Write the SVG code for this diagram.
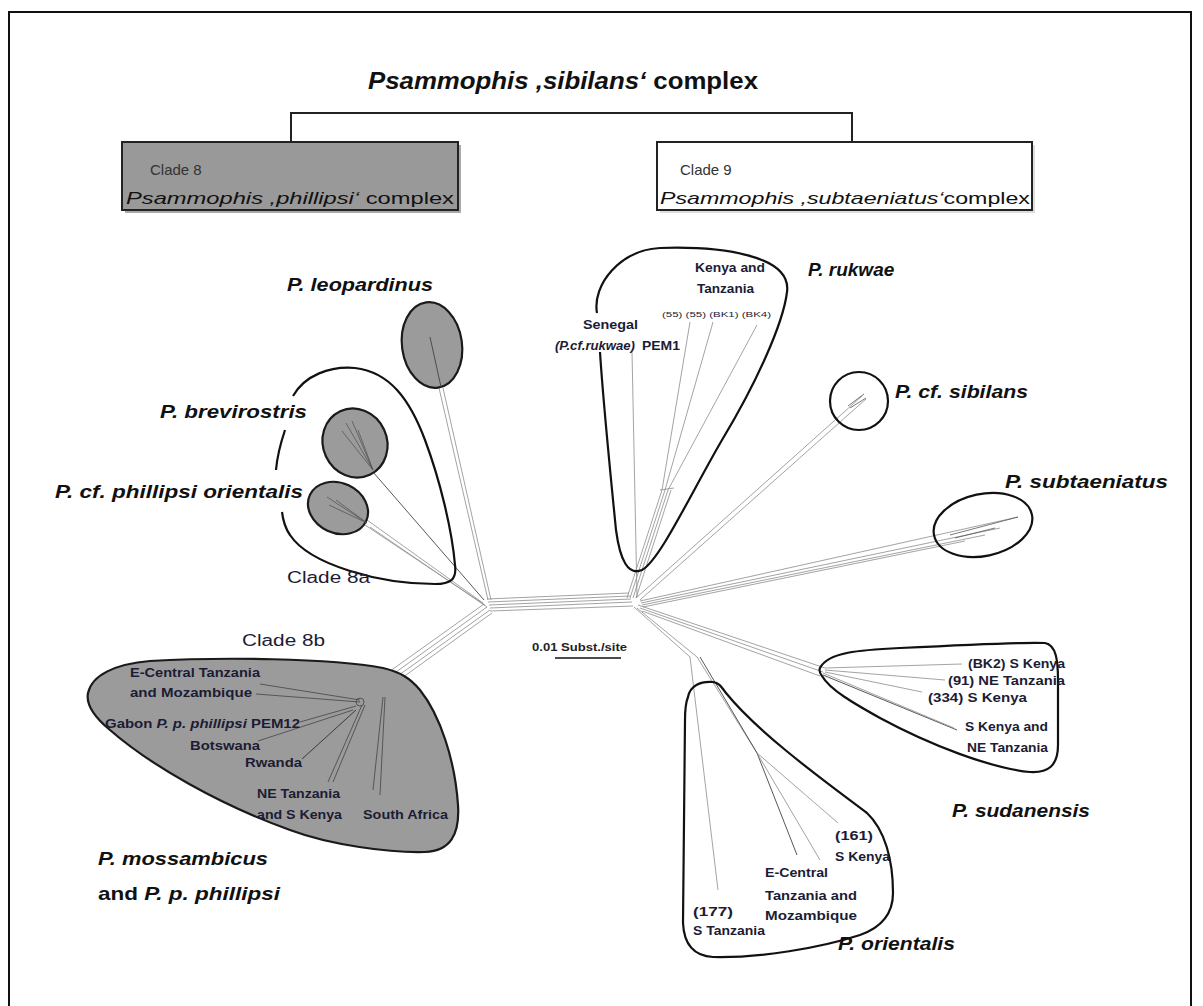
<svg xmlns="http://www.w3.org/2000/svg" width="1203" height="1006" viewBox="0 0 1203 1006">
<defs>
<style>
.sp{font-family:"Liberation Sans",Arial,sans-serif;font-weight:bold;font-style:italic;font-size:19px;fill:#111}
.sm{font-family:"Liberation Sans",Arial,sans-serif;font-weight:bold;font-size:13px;fill:#1c1c34}
.cl{font-family:"Liberation Sans",Arial,sans-serif;font-size:16px;fill:#1c1c34}
.bx{font-family:"Liberation Sans",Arial,sans-serif;font-size:17px;fill:#111}
.net line,.net polyline{stroke:#8c8c8c;stroke-width:0.8;fill:none}
.net .dk{stroke:#444;stroke-width:0.9}
.loop{fill:none;stroke:#111;stroke-width:2.2}
.gr{fill:#9b9b9b;stroke:#1a1a1a;stroke-width:2.2}
</style>
</defs>
<rect width="1203" height="1006" fill="#fff"/>
<path d="M9,1006 V12 H1191 V1006" fill="none" stroke="#111" stroke-width="2"/>

<g id="title">
<text x="368" y="89" font-family="Liberation Sans, Arial, sans-serif" font-weight="bold" font-size="24" fill="#111" textLength="390" lengthAdjust="spacingAndGlyphs"><tspan font-style="italic">Psammophis ,sibilans‘</tspan> complex</text>
<path d="M291,142 V113 H852 V142" fill="none" stroke="#222" stroke-width="2"/>
</g>

<g id="clade8">
<rect x="125" y="145" width="336" height="68" fill="#555" opacity="0.5"/>
<rect x="122" y="142" width="336" height="68" fill="#999" stroke="#222" stroke-width="2"/>
<text x="150" y="175" font-family="Liberation Sans, Arial, sans-serif" font-size="15" fill="#333">Clade 8</text>
<text class="bx" x="126" y="204" textLength="328" lengthAdjust="spacingAndGlyphs"><tspan font-style="italic">Psammophis ,phillipsi‘</tspan> complex</text>
</g>

<g id="clade9">
<rect x="660" y="145" width="375" height="68" fill="#bbb" opacity="0.5"/>
<rect x="657" y="142" width="375" height="68" fill="#fff" stroke="#222" stroke-width="2"/>
<text x="680" y="175" font-family="Liberation Sans, Arial, sans-serif" font-size="15" fill="#333">Clade 9</text>
<text class="bx" x="660" y="204" textLength="370" lengthAdjust="spacingAndGlyphs"><tspan font-style="italic">Psammophis ,subtaeniatus‘</tspan>complex</text>
</g>

<g id="connectors" class="net">
<!-- central bundle -->
<line x1="487" y1="599" x2="629" y2="593"/>
<line x1="488" y1="602" x2="630" y2="596"/>
<line x1="489" y1="605" x2="631" y2="599"/>
<line x1="490" y1="608" x2="632" y2="602"/>
<line x1="490" y1="611" x2="633" y2="606"/>
<!-- left hub to 8b -->
<line x1="484" y1="604" x2="372" y2="684"/>
<line x1="487" y1="607" x2="375" y2="687"/>
<line x1="490" y1="610" x2="378" y2="690"/>
<line x1="492" y1="613" x2="381" y2="693"/>
<!-- left hub to 8a -->
<line x1="483" y1="603" x2="367" y2="520"/>
<line x1="485" y1="605" x2="365" y2="525"/>
<line x1="487" y1="607" x2="370" y2="527"/>
<line class="dk" x1="484" y1="600" x2="373" y2="472"/>
<line x1="488" y1="600" x2="439" y2="388"/>
<line x1="491" y1="600" x2="443" y2="388"/>
<!-- right hub to rukwae -->
<line x1="632" y1="352" x2="637" y2="597"/>
<polyline points="627,598 662,490 690,322"/>
<polyline points="630,598 665,490 713,322"/>
<polyline points="633,598 668,490 757,325"/>
<line x1="636" y1="598" x2="671" y2="490"/>
<line x1="660" y1="490" x2="674" y2="488"/>
<!-- right hub to sibilans -->
<line x1="636" y1="598" x2="862" y2="396"/>
<line x1="640" y1="600" x2="866" y2="399"/>
<!-- right hub to subtaeniatus -->
<line x1="640" y1="601" x2="1018" y2="517"/>
<line x1="641" y1="603" x2="1000" y2="528"/>
<line x1="642" y1="605" x2="985" y2="535"/>
<line x1="643" y1="607" x2="965" y2="541"/>
<!-- right hub to sudanensis -->
<line x1="638" y1="605" x2="825" y2="668"/>
<line x1="640" y1="608" x2="823" y2="672"/>
<line x1="642" y1="611" x2="820" y2="676"/>
<line x1="825" y1="668" x2="962" y2="664"/>
<line x1="825" y1="670" x2="945" y2="680"/>
<line x1="825" y1="672" x2="922" y2="692"/>
<line class="dk" x1="823" y1="675" x2="957" y2="730"/>
<line x1="823" y1="673" x2="954" y2="728"/>
<!-- right hub to orientalis -->
<line x1="634" y1="607" x2="690" y2="657"/>
<line x1="637" y1="608" x2="697" y2="657"/>
<line x1="690" y1="657" x2="718" y2="890"/>
<line x1="697" y1="657" x2="757" y2="753"/>
<polyline class="dk" points="700,657 757,753 797,855"/>
<line x1="757" y1="753" x2="820" y2="860"/>
<line x1="757" y1="753" x2="838" y2="823"/>
</g>

<g id="leopardinus">
<ellipse class="gr" cx="432" cy="345" rx="30" ry="43" transform="rotate(-8 432 345)"/>
<line x1="430" y1="337" x2="441" y2="387" stroke="#444" stroke-width="0.9"/>
<text class="sp" x="287" y="291" textLength="146" lengthAdjust="spacingAndGlyphs">P. leopardinus</text>
</g>

<g id="clade8a">
<path class="loop" d="M293,396 C305,375 330,366 355,368 C390,372 410,400 425,440 C440,480 452,530 455,565 C457,580 450,584 435,584 C380,584 310,565 290,535 C285,528 283,520 282,512"/>
<path class="loop" d="M285,430 C280,445 277,458 276,470"/>
<ellipse class="gr" cx="355" cy="443" rx="32" ry="35" transform="rotate(-25 355 443)"/>
<g stroke="#555" stroke-width="0.8" fill="none">
<line x1="346" y1="423" x2="373" y2="470"/><line x1="342" y1="431" x2="373" y2="470"/><line x1="352" y1="421" x2="373" y2="470"/><line x1="358" y1="430" x2="373" y2="470"/>
</g>
<ellipse class="gr" cx="338" cy="508" rx="31" ry="25" transform="rotate(25 338 508)"/>
<g stroke="#555" stroke-width="0.8" fill="none">
<line x1="327" y1="497" x2="367" y2="523"/><line x1="329" y1="505" x2="367" y2="523"/><line x1="336" y1="500" x2="367" y2="523"/>
</g>
<text class="sp" x="160" y="418" textLength="147" lengthAdjust="spacingAndGlyphs">P. brevirostris</text>
<text class="sp" x="55" y="498" textLength="248" lengthAdjust="spacingAndGlyphs">P. cf. phillipsi  orientalis</text>
<text class="cl" x="287" y="583" textLength="83" lengthAdjust="spacingAndGlyphs">Clade 8a</text>
</g>

<g id="clade8b">
<path class="gr" d="M88,693 C92,675 115,664 150,661 C220,657 330,658 383,668 C400,672 410,678 420,690 C440,715 455,760 458,805 C460,835 450,851 425,852 C390,853 330,845 290,830 C220,805 150,765 110,730 C92,715 86,703 88,693 Z"/>
<g stroke="#444" stroke-width="0.8" fill="none">
<line x1="360" y1="700" x2="260" y2="684"/>
<line x1="360" y1="702" x2="256" y2="694"/>
<line x1="356" y1="706" x2="300" y2="722"/>
<line x1="353" y1="710" x2="258" y2="741"/>
<line x1="356" y1="710" x2="302" y2="759" stroke="#222"/>
<line x1="362" y1="705" x2="328" y2="782"/>
<line x1="365" y1="705" x2="333" y2="782"/>
<line x1="383" y1="697" x2="373" y2="790"/>
<line x1="385" y1="697" x2="380" y2="795"/>
<circle cx="360" cy="702" r="4"/>
</g>
<text class="cl" x="242" y="646" textLength="83" lengthAdjust="spacingAndGlyphs">Clade 8b</text>
<text class="sm" x="130" y="677" textLength="130" lengthAdjust="spacingAndGlyphs">E-Central Tanzania</text>
<text class="sm" x="130" y="697" textLength="122" lengthAdjust="spacingAndGlyphs">and Mozambique</text>
<text class="sm" x="105" y="728" textLength="195" lengthAdjust="spacingAndGlyphs">Gabon <tspan font-style="italic">P. p. phillipsi</tspan> PEM12</text>
<text class="sm" x="190" y="750" textLength="70" lengthAdjust="spacingAndGlyphs">Botswana</text>
<text class="sm" x="245" y="767" textLength="57" lengthAdjust="spacingAndGlyphs">Rwanda</text>
<text class="sm" x="257" y="798" textLength="83" lengthAdjust="spacingAndGlyphs">NE Tanzania</text>
<text class="sm" x="257" y="819" textLength="85" lengthAdjust="spacingAndGlyphs">and S Kenya</text>
<text class="sm" x="363" y="819" textLength="85" lengthAdjust="spacingAndGlyphs">South Africa</text>
<text class="sp" x="98" y="865" textLength="170" lengthAdjust="spacingAndGlyphs">P. mossambicus</text>
<text class="sp" x="98" y="900" textLength="182" lengthAdjust="spacingAndGlyphs"><tspan font-style="normal">and</tspan> P. p. phillipsi</text>
</g>

<g id="scale">
<text x="532" y="651" font-family="Liberation Sans, Arial, sans-serif" font-weight="bold" font-size="10" fill="#222" textLength="95" lengthAdjust="spacingAndGlyphs">0.01 Subst./site</text>
<line x1="555" y1="658" x2="621" y2="658" stroke="#111" stroke-width="1.5"/>
</g>

<g id="rukwae">
<path class="loop" d="M597,313 C592,285 620,250 660,248 C720,246 792,255 787,292 C783,325 755,385 722,440 C690,495 660,560 642,570 C628,576 620,560 616,530 C610,470 603,400 600,352"/>
<text class="sm" x="695" y="272" textLength="70" lengthAdjust="spacingAndGlyphs">Kenya and</text>
<text class="sm" x="697" y="293" textLength="57" lengthAdjust="spacingAndGlyphs">Tanzania</text>
<text x="662" y="317" font-family="Liberation Sans, Arial, sans-serif" font-size="7.5" fill="#1c1c34" textLength="109" lengthAdjust="spacingAndGlyphs">(55) (55) (BK1) (BK4)</text>
<text class="sm" x="583" y="329" textLength="55" lengthAdjust="spacingAndGlyphs">Senegal</text>
<text class="sm" x="555" y="350" font-style="italic" textLength="80" lengthAdjust="spacingAndGlyphs">(P.cf.rukwae)</text>
<text class="sm" x="642" y="350" textLength="38" lengthAdjust="spacingAndGlyphs">PEM1</text>
<text class="sp" x="808" y="276">P. rukwae</text>
</g>

<g id="sibilans">
<circle cx="859" cy="401" r="29" class="loop"/>
<g stroke="#555" stroke-width="0.8"><line x1="848" y1="406" x2="864" y2="394"/><line x1="850" y1="408" x2="866" y2="398"/></g>
<text class="sp" x="895" y="398" textLength="133" lengthAdjust="spacingAndGlyphs">P. cf. sibilans</text>
</g>

<g id="subtaeniatus">
<ellipse class="loop" cx="983" cy="525" rx="50" ry="31" transform="rotate(-12 983 525)"/>
<g stroke="#555" stroke-width="0.8"><line x1="950" y1="535" x2="1018" y2="517"/><line x1="955" y1="538" x2="995" y2="528"/></g>
<text class="sp" x="1005" y="488" textLength="163" lengthAdjust="spacingAndGlyphs">P. subtaeniatus</text>
</g>

<g id="sudanensis">
<path class="loop" d="M820,668 C828,652 860,650 900,648 C960,645 1030,642 1045,643 C1056,645 1058,660 1058,680 L1058,745 C1058,766 1048,773 1030,772 C990,768 930,745 880,718 C855,704 830,690 822,676 C819,672 819,670 820,668 Z"/>
<text class="sm" x="968" y="668" textLength="97" lengthAdjust="spacingAndGlyphs">(BK2) S Kenya</text>
<text class="sm" x="948" y="685" textLength="117" lengthAdjust="spacingAndGlyphs">(91) NE Tanzania</text>
<text class="sm" x="928" y="702" textLength="99" lengthAdjust="spacingAndGlyphs">(334) S Kenya</text>
<text class="sm" x="965" y="731" textLength="83" lengthAdjust="spacingAndGlyphs">S Kenya and</text>
<text class="sm" x="967" y="752" textLength="81" lengthAdjust="spacingAndGlyphs">NE Tanzania</text>
<text class="sp" x="952" y="817" textLength="138" lengthAdjust="spacingAndGlyphs">P. sudanensis</text>
</g>

<g id="orientalis">
<path class="loop" d="M688,697 C690,686 700,681 713,682 C720,683 722,688 726,693 C760,735 830,785 867,813 C885,830 893,860 893,893 C893,915 880,928 860,935 C820,948 760,958 713,957 C695,956 684,945 683,923 L685,720 C685,710 686,702 688,697 Z"/>
<text class="sm" x="835" y="840" textLength="38" lengthAdjust="spacingAndGlyphs">(161)</text>
<text class="sm" x="835" y="861" textLength="55" lengthAdjust="spacingAndGlyphs">S Kenya</text>
<text class="sm" x="765" y="877" textLength="63" lengthAdjust="spacingAndGlyphs">E-Central</text>
<text class="sm" x="765" y="900" textLength="92" lengthAdjust="spacingAndGlyphs">Tanzania  and</text>
<text class="sm" x="765" y="920" textLength="92" lengthAdjust="spacingAndGlyphs">Mozambique</text>
<text class="sm" x="693" y="916" textLength="40" lengthAdjust="spacingAndGlyphs">(177)</text>
<text class="sm" x="693" y="935" textLength="72" lengthAdjust="spacingAndGlyphs">S Tanzania</text>
<text class="sp" x="838" y="950" textLength="117" lengthAdjust="spacingAndGlyphs">P. orientalis</text>
</g>
</svg>
